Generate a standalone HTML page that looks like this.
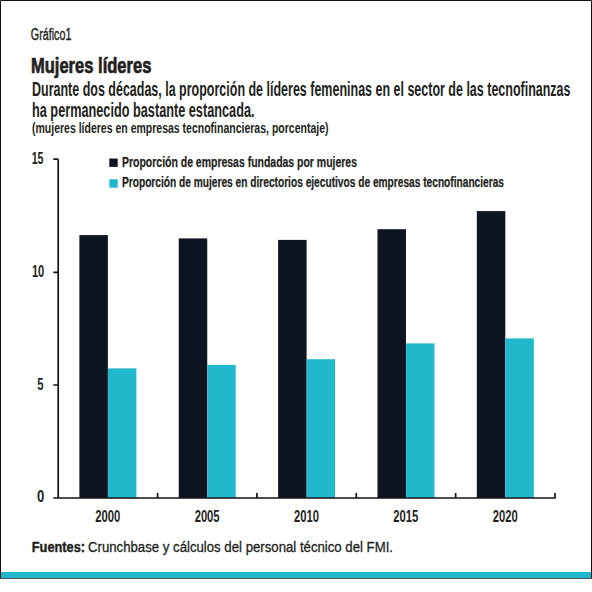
<!DOCTYPE html>
<html><head><meta charset="utf-8"><style>
html,body{margin:0;padding:0;background:#fff;width:592px;height:592px;overflow:hidden}
svg{display:block}
text{font-family:"Liberation Sans", sans-serif}
</style></head><body>
<svg width="592" height="592" viewBox="0 0 592 592">
<rect x="0" y="0" width="592" height="592" fill="#fff"/>
<rect x="1" y="572" width="590" height="6" fill="#21b7cd"/>
<path d="M0.5 578.5 V0.5 H591.5 V578.5" fill="none" stroke="#111" stroke-width="1"/><rect x="0" y="578" width="592" height="1" fill="#555"/>
<rect x="79.38" y="235.1" width="28.5" height="262.90" fill="#0f1520"/>
<rect x="107.88" y="368.4" width="28.5" height="129.60" fill="#21b7cd"/>
<rect x="178.74" y="238.4" width="28.5" height="259.60" fill="#0f1520"/>
<rect x="207.24" y="364.9" width="28.5" height="133.10" fill="#21b7cd"/>
<rect x="278.10" y="239.9" width="28.5" height="258.10" fill="#0f1520"/>
<rect x="306.60" y="359.2" width="28.5" height="138.80" fill="#21b7cd"/>
<rect x="377.46" y="229.2" width="28.5" height="268.80" fill="#0f1520"/>
<rect x="405.96" y="343.4" width="28.5" height="154.60" fill="#21b7cd"/>
<rect x="476.82" y="211.1" width="28.5" height="286.90" fill="#0f1520"/>
<rect x="505.32" y="338.4" width="28.5" height="159.60" fill="#21b7cd"/>
<path d="M58.2 159.2 V498 M53.3 159.2 H58.2 M53.3 272.3 H58.2 M53.3 385 H58.2 M53.3 498 H555 V493" stroke="#141414" stroke-width="1.7" fill="none"/>
<path d="M157.56 498 V493" stroke="#141414" stroke-width="1.7" fill="none"/>
<path d="M256.92 498 V493" stroke="#141414" stroke-width="1.7" fill="none"/>
<path d="M356.28 498 V493" stroke="#141414" stroke-width="1.7" fill="none"/>
<path d="M455.64 498 V493" stroke="#141414" stroke-width="1.7" fill="none"/>
<text x="30.8" y="40" font-size="15.8" font-weight="normal" fill="#231f20" stroke="#231f20" stroke-width="0.4" stroke-linejoin="round" textLength="40.6" lengthAdjust="spacingAndGlyphs">Gráfico1</text>
<text x="30.9" y="72.6" font-size="21.8" font-weight="bold" fill="#231f20" stroke="#231f20" stroke-width="0.7" stroke-linejoin="round" textLength="120.5" lengthAdjust="spacingAndGlyphs">Mujeres líderes</text>
<text x="32" y="95.7" font-size="20" font-weight="bold" fill="#231f20" textLength="538.5" lengthAdjust="spacingAndGlyphs">Durante dos décadas, la proporción de líderes femeninas en el sector de las tecnofinanzas</text>
<text x="32" y="116.5" font-size="20" font-weight="bold" fill="#231f20" textLength="222.5" lengthAdjust="spacingAndGlyphs">ha permanecido bastante estancada.</text>
<text x="32" y="132.7" font-size="14.5" font-weight="bold" fill="#231f20" textLength="296.5" lengthAdjust="spacingAndGlyphs">(mujeres líderes en empresas tecnofinancieras, porcentaje)</text>
<rect x="109.3" y="158.5" width="8.4" height="8.4" fill="#0f1520"/>
<rect x="109.3" y="179.3" width="8.4" height="8.4" fill="#21b7cd"/>
<text x="122" y="166.6" font-size="15.2" font-weight="bold" fill="#231f20" stroke="#231f20" stroke-width="0.25" stroke-linejoin="round" textLength="235" lengthAdjust="spacingAndGlyphs">Proporción de empresas fundadas por mujeres</text>
<text x="122" y="186.9" font-size="15.2" font-weight="bold" fill="#231f20" stroke="#231f20" stroke-width="0.25" stroke-linejoin="round" textLength="382" lengthAdjust="spacingAndGlyphs">Proporción de mujeres en directorios ejecutivos de empresas tecnofinancieras</text>
<text x="43.5" y="164" font-size="16" font-weight="bold" fill="#231f20" textLength="11.8" lengthAdjust="spacingAndGlyphs" text-anchor="end">15</text>
<text x="44.3" y="276.6" font-size="16" font-weight="bold" fill="#231f20" textLength="12.4" lengthAdjust="spacingAndGlyphs" text-anchor="end">10</text>
<text x="43.5" y="389.6" font-size="16" font-weight="bold" fill="#231f20" textLength="6.2" lengthAdjust="spacingAndGlyphs" text-anchor="end">5</text>
<text x="44.2" y="501.7" font-size="16" font-weight="bold" fill="#231f20" textLength="7.3" lengthAdjust="spacingAndGlyphs" text-anchor="end">0</text>
<text x="95.28" y="522.3" font-size="15.6" font-weight="bold" fill="#231f20" textLength="25" lengthAdjust="spacingAndGlyphs">2000</text>
<text x="194.64" y="522.3" font-size="15.6" font-weight="bold" fill="#231f20" textLength="25" lengthAdjust="spacingAndGlyphs">2005</text>
<text x="294.0" y="522.3" font-size="15.6" font-weight="bold" fill="#231f20" textLength="25" lengthAdjust="spacingAndGlyphs">2010</text>
<text x="393.36" y="522.3" font-size="15.6" font-weight="bold" fill="#231f20" textLength="25" lengthAdjust="spacingAndGlyphs">2015</text>
<text x="492.72" y="522.3" font-size="15.6" font-weight="bold" fill="#231f20" textLength="25" lengthAdjust="spacingAndGlyphs">2020</text>
<text x="31.8" y="551.9" font-size="14" font-weight="bold" fill="#231f20" stroke="#231f20" stroke-width="0.4" stroke-linejoin="round" textLength="53.2" lengthAdjust="spacingAndGlyphs">Fuentes:</text>
<text x="88" y="551.5" font-size="14" font-weight="normal" fill="#231f20" stroke="#231f20" stroke-width="0.3" stroke-linejoin="round" textLength="305" lengthAdjust="spacingAndGlyphs">Crunchbase y cálculos del personal técnico del FMI.</text>
</svg>
</body></html>
